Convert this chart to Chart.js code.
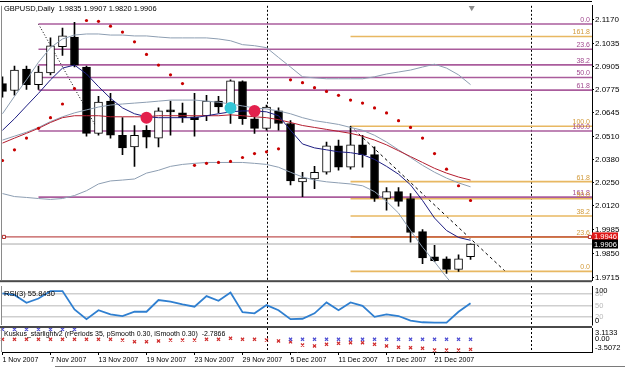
<!DOCTYPE html>
<html lang="en">
<head>
<meta charset="UTF-8">
<title>GBPUSD Daily</title>
<script src="https://cdn.jsdelivr.net/npm/chart.js"></script>
<style>
  html, body { margin: 0; padding: 0; background: #fff; }
  #wrap { position: relative; width: 625px; height: 368px; overflow: hidden; background: #fff; }
  canvas { position: absolute; left: 0; }
</style>
</head>
<body>
<div id="wrap">
  <canvas id="mainChart" width="625" height="286" style="top:0"></canvas>
  <canvas id="rsiChart" width="625" height="42" style="top:286px"></canvas>
  <canvas id="kusChart" width="625" height="24" style="top:328px"></canvas>
  <canvas id="dateAxis" width="625" height="28" style="top:340px"></canvas>
</div>
<script>
// ---- data (bar index 0 = 1 Nov 2007) ----
const tickBars   = [0, 4, 8, 12, 16, 20, 24, 28, 32, 36];
const tickLabels = ['1 Nov 2007', '7 Nov 2007', '13 Nov 2007', '19 Nov 2007', '23 Nov 2007',
                    '29 Nov 2007', '5 Dec 2007', '11 Dec 2007', '17 Dec 2007', '21 Dec 2007'];
const priceTicks = [2.1170, 2.1035, 2.0905, 2.0775, 2.0645, 2.0510, 2.0380, 2.0250, 2.0120, 1.9985, 1.9850, 1.9715];

const open  = [2.0809, 2.0770, 2.0891, 2.0803, 2.0869, 2.1017, 2.1071, 2.0902, 2.0529, 2.0710,
               2.0518, 2.0453, 2.0546, 2.0502, 2.0661, 2.0644, 2.0622, 2.0628, 2.0710, 2.0672,
               2.0820, 2.0611, 2.0557, 2.0655, 2.0584, 2.0256, 2.0272, 2.0310, 2.0458, 2.0338,
               2.0464, 2.0409, 2.0162, 2.0201, 2.0162, 1.9976, 1.9834, 1.9823, 1.9763, 1.9835];
const high  = [2.0847, 2.0907, 2.0907, 2.0907, 2.1066, 2.1121, 2.1154, 2.0907, 2.0737, 2.0754,
               2.0617, 2.0573, 2.0573, 2.0672, 2.0710, 2.0699, 2.0754, 2.0743, 2.0737, 2.0830,
               2.0825, 2.0639, 2.0688, 2.0672, 2.0600, 2.0310, 2.0343, 2.0480, 2.0491, 2.0568,
               2.0518, 2.0453, 2.0223, 2.0223, 2.0190, 1.9987, 1.9899, 1.9834, 1.9845, 1.9907];
const low   = [2.0732, 2.0743, 2.0776, 2.0776, 2.0858, 2.0967, 2.0902, 2.0513, 2.0518, 2.0502,
               2.0409, 2.0343, 2.0447, 2.0453, 2.0518, 2.0590, 2.0513, 2.0600, 2.0644, 2.0584,
               2.0579, 2.0529, 2.0546, 2.0546, 2.0239, 2.0173, 2.0217, 2.0299, 2.0321, 2.0327,
               2.0338, 2.0146, 2.0097, 2.0119, 1.9916, 1.9795, 1.9806, 1.9741, 1.9752, 1.9820];
const close = [2.0765, 2.0885, 2.0803, 2.0874, 2.1022, 2.1077, 2.0913, 2.0529, 2.0705, 2.0518,
               2.0447, 2.0518, 2.0507, 2.0655, 2.0650, 2.0617, 2.0606, 2.0710, 2.0677, 2.0825,
               2.0611, 2.0557, 2.0677, 2.0584, 2.0261, 2.0277, 2.0310, 2.0458, 2.0338, 2.0464,
               2.0409, 2.0162, 2.0201, 2.0146, 1.9971, 1.9828, 1.9812, 1.9763, 1.9823, 1.9906];

const bbUpper = [2.0639, 2.0737, 2.0830, 2.0929, 2.1011, 2.1060, 2.1082, 2.1088, 2.1088, 2.1082,
                 2.1082, 2.1077, 2.1077, 2.1071, 2.1066, 2.1066, 2.1066, 2.1066, 2.1060, 2.1050,
                 2.1028, 2.1022, 2.1011, 2.0956, 2.0902, 2.0847, 2.0841, 2.0836, 2.0836, 2.0836,
                 2.0836, 2.0847, 2.0863, 2.0874, 2.0885, 2.0902, 2.0918, 2.0896, 2.0858, 2.0803];
const bbMiddle = [2.0491, 2.0513, 2.0535, 2.0562, 2.0595, 2.0622, 2.0644, 2.0661, 2.0677, 2.0688,
                  2.0694, 2.0699, 2.0704, 2.0710, 2.0716, 2.0716, 2.0716, 2.0710, 2.0704, 2.0694,
                  2.0683, 2.0672, 2.0666, 2.0655, 2.0639, 2.0617, 2.0600, 2.0590, 2.0579, 2.0562,
                  2.0546, 2.0518, 2.0480, 2.0436, 2.0393, 2.0349, 2.0310, 2.0277, 2.0250, 2.0228];
const bbLower = [2.0190, 2.0173, 2.0168, 2.0162, 2.0157, 2.0162, 2.0179, 2.0206, 2.0244, 2.0261,
                 2.0266, 2.0272, 2.0305, 2.0321, 2.0343, 2.0354, 2.0360, 2.0365, 2.0365, 2.0365,
                 2.0365, 2.0360, 2.0354, 2.0338, 2.0310, 2.0283, 2.0266, 2.0256, 2.0250, 2.0244,
                 2.0234, 2.0201, 2.0146, 2.0080, 1.9982, 1.9888, 1.9806, 1.9719, 1.9642, 1.9571];
const maSlow = [2.0474, 2.0502, 2.0529, 2.0557, 2.0590, 2.0617, 2.0628, 2.0628, 2.0628, 2.0622,
                2.0622, 2.0622, 2.0622, 2.0628, 2.0628, 2.0628, 2.0628, 2.0628, 2.0628, 2.0633,
                2.0628, 2.0622, 2.0617, 2.0606, 2.0590, 2.0573, 2.0562, 2.0551, 2.0540, 2.0529,
                2.0513, 2.0491, 2.0464, 2.0431, 2.0398, 2.0365, 2.0332, 2.0305, 2.0283, 2.0266];
const maFast = [2.0546, 2.0611, 2.0683, 2.0754, 2.0830, 2.0896, 2.0913, 2.0863, 2.0792, 2.0726,
                2.0672, 2.0639, 2.0622, 2.0617, 2.0617, 2.0617, 2.0617, 2.0628, 2.0639, 2.0650,
                2.0655, 2.0655, 2.0650, 2.0628, 2.0546, 2.0469, 2.0447, 2.0436, 2.0425, 2.0420,
                2.0409, 2.0382, 2.0343, 2.0299, 2.0239, 2.0151, 2.0052, 1.9982, 1.9943, 1.9927];
const sar = [2.0376, 2.0436, 2.0502, 2.0557, 2.0617, 2.0694, 2.0781, 2.1164, 2.1159, 2.1132,
             2.1099, 2.1044, 2.0973, 2.0913, 2.0858, 2.0809, 2.0349, 2.0360, 2.0365, 2.0371,
             2.0393, 2.0415, 2.0425, 2.0442, 2.0830, 2.0814, 2.0786, 2.0765, 2.0743, 2.0716,
             2.0699, 2.0672, 2.0644, 2.0600, 2.0562, 2.0502, 2.0415, 2.0327, 2.0234, 2.0151];
const signalBars   = [12, 19, 21];
const signalPrices = [2.0617, 2.0672, 2.0655];
const signalColors = ['#e3204c', '#33c6d6', '#e3204c'];

// fibonacci objects: anchor bars and prices of the 0 and 100 levels
const purpleFib = { from: 3,  bar0: 3,    bar100: 8,  p0: 2.1144, p100: 2.0542,
                    line: '#aa5c9c', text: '#a24a90', dash: [1, 2] };
const orangeFib = { from: 29, bar0: 41.9, bar100: 29, p0: 1.9752, p100: 2.0569,
                    line: '#e8b862', text: '#d29a3a', dash: [3, 3] };
const fibLevels = [0, 23.6, 38.2, 50, 61.8, 100, 161.8];
const alertPrice = 1.9946;
const bidPrice = 1.9906;
const periodSeps = [22, 44];

const rsi = [81, 77, 57, 68, 87, 87, 40, 15, 38, 27, 23, 34, 34, 64, 60, 53, 47, 74, 62, 83,
             33, 30, 51, 38, 15, 16, 30, 58, 38, 58, 49, 21, 27, 23, 11, 7, 6, 6, 34, 55.843];
const rsiLevels = [80, 50, 20];
const kusUp = [2.75, 2.75, 2.75, 2.75, 2.75, 2.75, 2.75, null, null, null,
               null, null, null, null, null, null, null, null, null, null,
               null, null, null, null, 0, 0, 0, 0, 0, 0,
               0, 0, 0, 0, 0, 0, 0, 0, 0, 0];
const kusDown = [0, 0, 0, 0, 0, 0, 0, 0, 0, 0,
                 -0.2, -0.67, -0.67, -0.47, -0.2, -0.2, -0.2, 0, 0, 0.27,
                 0, 0, -0.2, -0.47, -0.7, -1.58, -1.85, -1.38, -1.1, -0.94,
                 -0.94, -1.38, -1.85, -2.21, -2.32, -2.49, -2.96, -2.96, -2.96, -2.7866];

// ---- layout helpers ----
const FONT = 'Liberation Sans, Arial, sans-serif';
const X_MIN = -0.04, X_MAX = 49.12;
const AXIS_W = 33;

const pts = arr => arr.map((v, i) => ({ x: i, y: v }));
const fibPrice = (f, lvl) => f.p0 + (f.p100 - f.p0) * lvl / 100;

function hiddenX() {
  return { type: 'linear', display: false, min: X_MIN, max: X_MAX, offset: false };
}

function lineSet(data, color, width, extra) {
  return Object.assign({ type: 'line', data, borderColor: color, borderWidth: width,
    pointRadius: 0, tension: 0, fill: false, spanGaps: false }, extra || {});
}

function drawSeps(chart) {
  const { ctx, chartArea: a, scales: { x } } = chart;
  ctx.save();
  ctx.strokeStyle = '#000';
  ctx.lineWidth = 1;
  ctx.setLineDash([2, 2]);
  periodSeps.forEach(b => {
    const px = Math.round(x.getPixelForValue(b)) + 0.5;
    ctx.beginPath(); ctx.moveTo(px, a.top); ctx.lineTo(px, a.bottom); ctx.stroke();
  });
  ctx.restore();
}

function drawLeftBorder(chart) {
  const { ctx, chartArea: a } = chart;
  ctx.save();
  ctx.strokeStyle = '#8a8a8a';
  ctx.beginPath(); ctx.moveTo(1.5, a.top); ctx.lineTo(1.5, a.bottom); ctx.stroke();
  ctx.restore();
}

function drawSideLabels(chart, items) {
  const { ctx, chartArea: a, scales: { y } } = chart;
  ctx.save();
  ctx.font = '7.5px ' + FONT;
  ctx.textAlign = 'left';
  ctx.textBaseline = 'middle';
  items.forEach(it => {
    let py = y.getPixelForValue(it.v);
    py = Math.min(a.bottom - 4.5, Math.max(a.top + 4.5, py));
    ctx.fillStyle = it.c;
    ctx.fillText(it.t, a.right + 3, py);
  });
  ctx.restore();
}

function fixedY(extra) {
  return Object.assign({
    position: 'right',
    afterFit: s => { s.width = AXIS_W; },
    border: { display: true, color: '#000' },
    grid: { display: false },
    ticks: { display: false }
  }, extra);
}

const baseOptions = (padding, scales) => ({
  responsive: false,
  animation: false,
  events: [],
  layout: { autoPadding: false, padding },
  plugins: { legend: { display: false }, tooltip: { enabled: false } },
  scales
});

// ---- main price panel ----
const fibSets = [];
[purpleFib, orangeFib].forEach(f => {
  fibLevels.forEach(l => {
    const p = fibPrice(f, l);
    fibSets.push(lineSet([{ x: f.from, y: p }, { x: X_MAX, y: p }], f.line, 1.6));
  });
  fibSets.push(lineSet([{ x: f.bar0, y: f.p0 }, { x: f.bar100, y: f.p100 }], '#000', 1, { borderDash: f.dash }));
});

const mainDecor = {
  id: 'mainDecor',
  beforeDatasetsDraw(chart) { drawSeps(chart); },
  afterDraw(chart) {
    const { ctx, chartArea: a, scales: { y } } = chart;
    ctx.save();
    // fibonacci level labels
    ctx.font = '7px ' + FONT;
    ctx.textAlign = 'right';
    ctx.textBaseline = 'bottom';
    [purpleFib, orangeFib].forEach(f => {
      ctx.fillStyle = f.text;
      fibLevels.forEach(l => {
        ctx.fillText(l.toFixed(1), a.right - 2, y.getPixelForValue(fibPrice(f, l)) - 0.5);
      });
    });
    // header
    ctx.font = '7.5px ' + FONT;
    ctx.textAlign = 'left';
    ctx.textBaseline = 'middle';
    ctx.fillStyle = '#000';
    ctx.fillText('GBPUSD,Daily  ' + [open[39], high[39], low[39], close[39]].map(v => v.toFixed(4)).join(' '), 4, 8.5);
    // price boxes
    [[alertPrice, '#e01818'], [bidPrice, '#000']].forEach(([p, c]) => {
      const py = y.getPixelForValue(p);
      ctx.fillStyle = c;
      ctx.fillRect(a.right, py - 4.5, 26, 9);
      ctx.fillStyle = '#fff';
      ctx.fillText(p.toFixed(4), a.right + 2, py + 0.5);
    });
    // frame
    ctx.strokeStyle = '#000';
    ctx.lineWidth = 1;
    ctx.beginPath(); ctx.moveTo(0, 1.5); ctx.lineTo(a.right, 1.5); ctx.stroke();
    ctx.fillStyle = '#4a4a4a';
    ctx.fillRect(0, a.bottom, a.right, 2);
    ctx.restore();
    drawLeftBorder(chart);
  }
};

new Chart(document.getElementById('mainChart'), {
  type: 'line',
  data: {
    datasets: [
      lineSet(signalBars.map((b, i) => ({ x: b, y: signalPrices[i] })), 'transparent', 0,
        { showLine: false, pointRadius: 6, pointBackgroundColor: signalColors, pointBorderWidth: 0 }),
      lineSet([{ x: 39.1, y: 2.1236 }], 'transparent', 0,
        { showLine: false, pointRadius: 3.5, pointStyle: 'triangle', rotation: 180,
          pointBackgroundColor: '#8c8c8c', pointBorderWidth: 0 }),
      lineSet(pts(sar), 'transparent', 0,
        { showLine: false, pointRadius: 1.6, pointBackgroundColor: '#c80000', pointBorderWidth: 0 }),
      lineSet(pts(maFast), '#1e1e82', 1),
      lineSet(pts(maSlow), '#b41e30', 1),
      lineSet(pts(bbUpper), '#8d9eb2', 1),
      lineSet(pts(bbMiddle), '#8d9eb2', 1),
      lineSet(pts(bbLower), '#8d9eb2', 1),
      {
        type: 'bar', grouped: false, barThickness: 8, borderSkipped: false,
        borderWidth: 1, borderColor: '#000',
        backgroundColor: close.map((c, i) => c < open[i] ? '#000' : '#fff'),
        data: open.map((o, i) => ({ x: i, y: [o, close[i]] }))
      },
      {
        type: 'bar', grouped: false, barThickness: 1, borderWidth: 0,
        backgroundColor: '#000',
        data: low.map((l, i) => ({ x: i, y: [l, high[i]] }))
      },
      lineSet([{ x: 0.12, y: alertPrice }, { x: 48.95, y: alertPrice }], 'transparent', 0,
        { showLine: false, pointRadius: 2.2, pointStyle: 'rect', pointBackgroundColor: '#fff',
          pointBorderColor: '#b02828', pointBorderWidth: 1 }),
      lineSet([{ x: X_MIN, y: alertPrice }, { x: X_MAX, y: alertPrice }], '#b02828', 1),
      lineSet([{ x: X_MIN, y: bidPrice }, { x: X_MAX, y: bidPrice }], '#a8a8a8', 1),
      ...fibSets
    ]
  },
  options: baseOptions({ left: 2, top: 2, bottom: 2, right: 0 }, {
    x: hiddenX(),
    y: {
      position: 'right', min: 1.97024, max: 2.12466,
      afterFit: s => { s.width = AXIS_W; },
      afterBuildTicks: s => { s.ticks = priceTicks.map(v => ({ value: v })); },
      border: { display: true, color: '#000' },
      grid: { display: true, drawOnChartArea: false, drawTicks: true, tickLength: 2, color: '#000' },
      ticks: { color: '#000', padding: 1, autoSkip: false, font: { family: FONT, size: 8 },
               callback: v => v.toFixed(4) }
    }
  }),
  plugins: [mainDecor]
});

// ---- RSI panel ----
const rsiDecor = {
  id: 'rsiDecor',
  beforeDatasetsDraw(chart) { drawSeps(chart); },
  afterDraw(chart) {
    const { ctx, chartArea: a } = chart;
    ctx.save();
    ctx.font = '7.5px ' + FONT;
    ctx.fillStyle = '#000';
    ctx.textBaseline = 'middle';
    ctx.fillText('RSI(3) ' + rsi[rsi.length - 1].toFixed(4), 4, a.top + 7.5);
    ctx.fillStyle = '#4a4a4a';
    ctx.fillRect(0, a.bottom + 1, a.right, 2);
    ctx.restore();
    drawSideLabels(chart, [
      { v: 100, t: '100', c: '#000' }, { v: 80, t: '80', c: '#b8b8b8' },
      { v: 50, t: '50', c: '#b8b8b8' }, { v: 20, t: '20', c: '#b8b8b8' }, { v: 0, t: '0', c: '#000' }
    ]);
    drawLeftBorder(chart);
  }
};

new Chart(document.getElementById('rsiChart'), {
  type: 'line',
  data: { datasets: [lineSet(pts(rsi), '#2f7fd0', 1.8)] },
  options: baseOptions({ left: 2, top: 0, bottom: 3, right: 0 }, {
    x: hiddenX(),
    y: fixedY({
      min: 0, max: 100,
      afterBuildTicks: s => { s.ticks = rsiLevels.map(v => ({ value: v })); },
      grid: { display: true, drawOnChartArea: true, drawTicks: false, color: '#cfcfcf', lineWidth: 1.5 }
    })
  }),
  plugins: [rsiDecor]
});

// ---- Kuskus panel ----
const kusDecor = {
  id: 'kusDecor',
  beforeDatasetsDraw(chart) { drawSeps(chart); },
  afterDraw(chart) {
    const { ctx, chartArea: a } = chart;
    ctx.save();
    ctx.font = '7px ' + FONT;
    ctx.fillStyle = '#000';
    ctx.textBaseline = 'middle';
    ctx.fillText('Kuskus_starlightv2 (rPeriods 35, pSmooth 0.30, iSmooth 0.30)  ' +
      kusDown[kusDown.length - 1].toFixed(4), 4, a.top + 6);
    ctx.restore();
    drawSideLabels(chart, [
      { v: 3.1133, t: '3.1133', c: '#000' }, { v: 0, t: '0.00', c: '#000' },
      { v: -3.5072, t: '-3.5072', c: '#000' }
    ]);
    drawLeftBorder(chart);
  }
};

new Chart(document.getElementById('kusChart'), {
  type: 'line',
  data: {
    datasets: [
      lineSet(pts(kusUp), 'transparent', 0, { showLine: false, pointRadius: 2.2, pointStyle: 'crossRot',
        pointBorderColor: '#4a4ad2', pointBorderWidth: 1.2, clip: 4 }),
      lineSet(pts(kusDown), 'transparent', 0, { showLine: false, pointRadius: 2.2, pointStyle: 'crossRot',
        pointBorderColor: '#d02a2a', pointBorderWidth: 1.2, clip: 4 })
    ]
  },
  options: baseOptions({ left: 2, top: 0, bottom: 0, right: 0 }, {
    x: hiddenX(),
    y: fixedY({ min: -3.5072, max: 3.1133 })
  }),
  plugins: [kusDecor]
});

// ---- date axis ----
const dateDecor = {
  id: 'dateDecor',
  afterDraw(chart) {
    const { ctx } = chart;
    ctx.save();
    ctx.fillStyle = '#7a7a7a';
    ctx.fillRect(55, 26, 570, 1);
    ctx.restore();
  }
};

new Chart(document.getElementById('dateAxis'), {
  type: 'line',
  data: { datasets: [] },
  options: baseOptions({ left: 2, top: 0, bottom: 0, right: 0 }, {
    x: {
      type: 'linear', min: X_MIN, max: X_MAX, offset: false,
      afterFit: s => { s.height = 16; },
      afterBuildTicks: s => { s.ticks = tickBars.map(v => ({ value: v })); },
      border: { display: true, color: '#000' },
      grid: { display: true, drawOnChartArea: false, drawTicks: true, tickLength: 3, color: '#000' },
      ticks: { color: '#000', padding: 1, align: 'start', maxRotation: 0, autoSkip: false,
               font: { family: FONT, size: 7 },
               callback: v => tickLabels[tickBars.indexOf(v)] }
    },
    y: fixedY({ min: 0, max: 1, border: { display: false } })
  }),
  plugins: [dateDecor]
});
</script>
</body>
</html>
